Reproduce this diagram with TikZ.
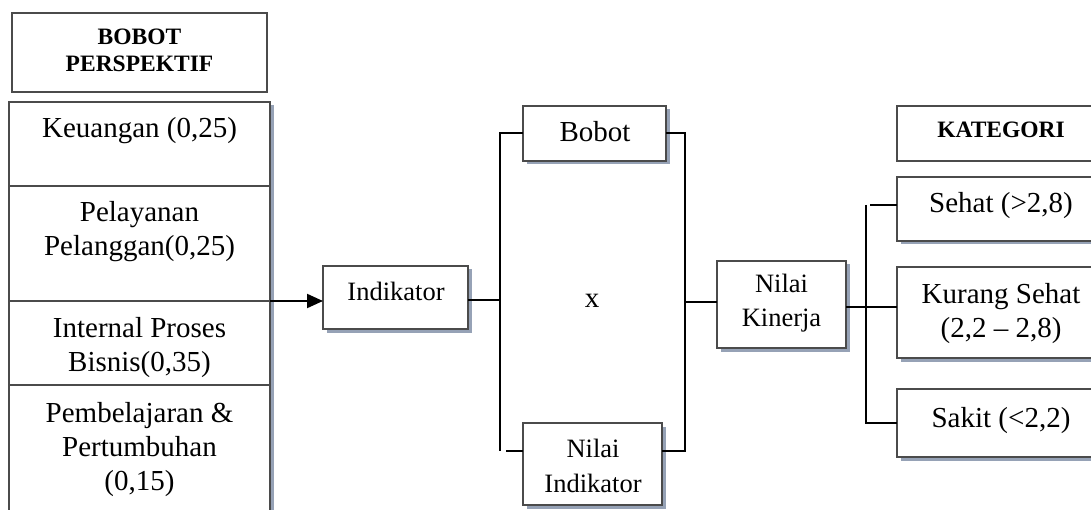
\documentclass[tikz,border=0pt]{standalone}
\usepackage{fontspec}
\setmainfont{Liberation Serif}
\usetikzlibrary{arrows.meta,shadows}
\definecolor{boxc}{RGB}{75,75,75}
\definecolor{shc}{RGB}{150,162,182}
\begin{document}
\begin{tikzpicture}[x=1pt,y=-1pt,
  bx/.style={draw=boxc,line width=1.5pt,fill=white,inner sep=0pt,outer sep=0pt},
  sh/.style={general shadow={fill=shc,shadow xshift=3.5pt,shadow yshift=-3.5pt}},
  tl/.style={font=\fontsize{29}{34}\selectfont,anchor=base,inner sep=0pt},
  ts/.style={font=\fontsize{26.5}{32}\selectfont,anchor=base,inner sep=0pt},
  th/.style={font=\fontsize{23.5}{27}\selectfont\bfseries,anchor=base,inner sep=0pt},
  ln/.style={draw=black,line width=2pt},
  arr/.style={ln,-{Triangle[length=16pt,width=14pt]}}]
\useasboundingbox (0,0) rectangle (1091,510);
\clip (0,0) rectangle (1091,510);
% left column
\node[bx,minimum width=255pt,minimum height=79pt] (hb) at (139.5,52.5) {};
\node[bx,sh,minimum width=261pt,minimum height=84pt] (keu) at (139.5,144) {};
\node[bx,sh,minimum width=261pt,minimum height=115pt] (pel) at (139.5,243.5) {};
\node[bx,sh,minimum width=261pt,minimum height=84pt] (int) at (139.5,343) {};
\node[bx,sh,minimum width=261pt,minimum height=145pt] (pem) at (139.5,457.5) {};
\node[th] (hb1) at (139.5,45) {BOBOT};
\node[th] (hb2) at (139.5,72) {PERSPEKTIF};
\node[tl] (k1) at (139.5,138) {Keuangan (0,25)};
\node[tl] (p1) at (139.5,222) {Pelayanan};
\node[tl] (p2) at (139.5,256) {Pelanggan(0,25)};
\node[tl] (i1) at (139.5,337) {Internal Proses};
\node[tl] (i2) at (139.5,371) {Bisnis(0,35)};
\node[tl] (m1) at (139.5,422) {Pembelajaran \&};
\node[tl] (m2) at (139.5,456) {Pertumbuhan};
\node[tl] (m3) at (139.5,490) {(0,15)};
% middle
\node[bx,sh,minimum width=145pt,minimum height=63pt] (ind) at (395.5,297.5) {};
\node[ts] (indt) at (396,301) {Indikator};
\node[bx,sh,minimum width=143pt,minimum height=55pt] (bob) at (594.5,133.5) {};
\node[tl] (bobt) at (595,142) {Bobot};
\node[tl] (xt) at (592,307) {x};
\node[bx,sh,minimum width=139pt,minimum height=82pt] (ni) at (592.5,464) {};
\node[ts] (ni1) at (593,457) {Nilai};
\node[ts] (ni2) at (593,492) {Indikator};
\node[bx,sh,minimum width=129pt,minimum height=87pt] (nk) at (781.5,304.5) {};
\node[ts] (nk1) at (781.5,293) {Nilai};
\node[ts] (nk2) at (781.5,326) {Kinerja};
% right column
\node[bx,minimum width=213pt,minimum height=55pt] (kat) at (1003.5,133.5) {};
\node[th] (katt) at (1001,138) {KATEGORI};
\node[bx,sh,minimum width=213pt,minimum height=64pt] (sht) at (1003.5,209) {};
\node[tl] (s1) at (1001,213) {Sehat (>2,8)};
\node[bx,sh,minimum width=213pt,minimum height=91pt] (kur) at (1003.5,312.5) {};
\node[tl] (ku1) at (1001,303) {Kurang Sehat};
\node[tl] (ku2) at (1001,337) {(2,2 – 2,8)};
\node[bx,sh,minimum width=213pt,minimum height=68pt] (sak) at (1003.5,423) {};
\node[tl] (sa1) at (1001,427) {Sakit (<2,2)};
% connectors
\coordinate (jl) at (500,300);
\coordinate (jlt) at (500,133.5);
\coordinate (jlb) at (500,451);
\coordinate (jlb2) at (506,451);
\coordinate (jrt) at (685,133.5);
\coordinate (jrb) at (685,451);
\coordinate (jrm) at (685,302);
\coordinate (kj) at (866,307);
\coordinate (kjt) at (866,205);
\coordinate (kjt2) at (870,205);
\coordinate (kjb) at (866,423);
\draw[arr] (pel.south east) -- (ind.west |- pel.south east);
\draw[ln] (ind.east |- jl) -- (jl);
\draw[ln] (bob.west) -- (jlt) -- (jlb);
\draw[ln] (jlb2) -- (jlb2 -| ni.west);
\draw[ln] (bob.east) -- (jrt) -- (jrb) -- (jrb -| ni.east);
\draw[ln] (jrm) -- (jrm -| nk.west);
\draw[ln] (nk.east |- kj) -- (kj -| kur.west);
\draw[ln] (kjt) -- (kjb) -- (kjb -| sak.west);
\draw[ln] (kjt2) -- (kjt2 -| sht.west);
\end{tikzpicture}
\end{document}
